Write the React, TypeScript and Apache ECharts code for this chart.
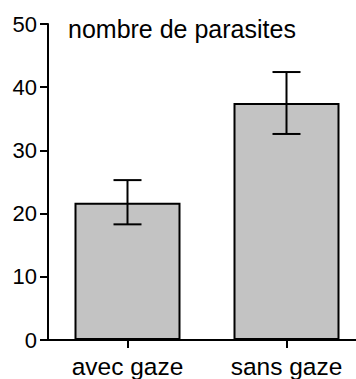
import React, { useEffect, useRef } from "react";
import * as echarts from "echarts";

const categories = ["avec gaze", "sans gaze"];
const means = [21.7, 37.5];
const lowerErr = [18.3, 32.6];
const upperErr = [25.3, 42.4];
const yTicks = [0, 10, 20, 30, 40, 50];
const titleText = "nombre de parasites";

const FONT = "'Liberation Sans', Arial, Helvetica, sans-serif";

export default function App() {
  const ref = useRef<HTMLDivElement>(null);
  useEffect(() => {
    if (!ref.current) return;
    const chart = echarts.init(ref.current, null, { renderer: "svg" });
    chart.setOption({
      animation: false,
      backgroundColor: "#ffffff",
      title: {
        text: titleText,
        left: 68,
        top: 16,
        padding: 0,
        textStyle: { fontSize: 25, fontWeight: "normal", color: "#000", fontFamily: FONT },
      },
      grid: { left: 48, top: 24, bottom: 39, right: 0, containLabel: false },
      xAxis: {
        type: "category",
        data: categories,
        boundaryGap: true,
        axisLine: { show: true, lineStyle: { color: "#000", width: 2 } },
        axisTick: { show: true, alignWithLabel: true, length: 8, lineStyle: { color: "#000", width: 2 } },
        axisLabel: { color: "#000", fontSize: 24.5, fontFamily: FONT, margin: 14 },
      },
      yAxis: {
        type: "value",
        min: yTicks[0],
        max: yTicks[yTicks.length - 1],
        interval: 10,
        splitLine: { show: false },
        axisLine: { show: true, lineStyle: { color: "#000", width: 2 } },
        axisTick: { show: true, length: 8, lineStyle: { color: "#000", width: 2 } },
        axisLabel: { color: "#000", fontSize: 22, fontFamily: FONT, margin: 11 },
      },
      series: [
        {
          type: "bar",
          data: means,
          barWidth: 106,
          itemStyle: { color: "#c3c3c3", borderColor: "#000", borderWidth: 2 },
        },
        {
          type: "custom",
          data: categories.map((_, i) => [i, lowerErr[i], upperErr[i]]),
          z: 10,
          renderItem: (params: any, api: any) => {
            const idx = api.value(0);
            const lo = api.coord([idx, api.value(1)]);
            const hi = api.coord([idx, api.value(2)]);
            const hw = 14;
            const style = { stroke: "#000", lineWidth: 2 };
            return {
              type: "group",
              children: [
                { type: "line", shape: { x1: hi[0], y1: hi[1], x2: lo[0], y2: lo[1] }, style },
                { type: "line", shape: { x1: hi[0] - hw, y1: hi[1], x2: hi[0] + hw, y2: hi[1] }, style },
                { type: "line", shape: { x1: lo[0] - hw, y1: lo[1], x2: lo[0] + hw, y2: lo[1] }, style },
              ],
            };
          },
        },
      ],
    });
    return () => chart.dispose();
  }, []);
  return (
    <div style={{ position: "absolute", left: 0, top: 0, width: 356, height: 379, overflow: "hidden", background: "#fff" }}>
      <div ref={ref} style={{ width: 366, height: 379 }} />
    </div>
  );
}
